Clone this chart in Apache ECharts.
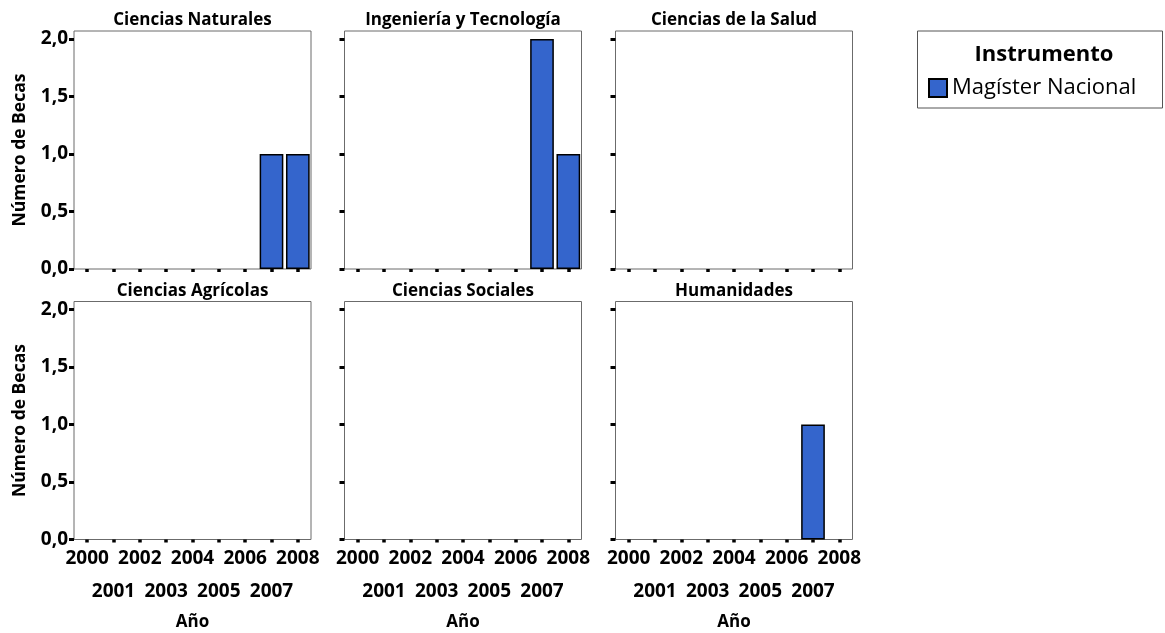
<!DOCTYPE html>
<html>
<head>
<meta charset="utf-8">
<script src="https://cdn.jsdelivr.net/npm/echarts@6/dist/echarts.min.js"></script>
<style>html,body{margin:0;padding:0;background:#fff}#c{width:1165px;height:633px}</style>
</head>
<body>
<div id="c"></div>
<script>
const years = ['2000','2001','2002','2003','2004','2005','2006','2007','2008'];
const panelTitles = ['Ciencias Naturales','Ingeniería y Tecnología','Ciencias de la Salud','Ciencias Agrícolas','Ciencias Sociales','Humanidades'];
const cienciasNaturales    = [0,0,0,0,0,0,0,1,1];
const ingenieriaTecnologia = [0,0,0,0,0,0,0,2,1];
const cienciasSalud        = [0,0,0,0,0,0,0,0,0];
const cienciasAgricolas    = [0,0,0,0,0,0,0,0,0];
const cienciasSociales     = [0,0,0,0,0,0,0,0,0];
const humanidades          = [0,0,0,0,0,0,0,1,0];
const yTickValues = [0, 0.5, 1, 1.5, 2];
const seriesName = 'Magíster Nacional';
const legendTitle = 'Instrumento';
const yName = 'Número de Becas';
const xName = 'Año';

const panelData = [cienciasNaturales, ingenieriaTecnologia, cienciasSalud, cienciasAgricolas, cienciasSociales, humanidades];
const FONT = 'Open Sans';
const colLeft = [74, 344.5, 615.5];
const rowTop = [31, 301.5];
const W = 237, H = 238;

const grids = [], xAxes = [], yAxes = [], series = [], titles = [];
for (let i = 0; i < 6; i++) {
  const r = Math.floor(i / 3), c = i % 3;
  grids.push({left: colLeft[c], top: rowTop[r], width: W, height: H, show: true,
    borderColor: '#6b6b6b', borderWidth: 1, backgroundColor: '#fff'});
  xAxes.push({
    type: 'category', gridIndex: i, data: years, boundaryGap: true,
    axisLine: {show: false},
    axisTick: {show: true, alignWithLabel: true, interval: 0, length: 3, lineStyle: {color: '#000', width: 3.5}},
    axisLabel: r === 1 ? {show: true, interval: 0, margin: 3, lineHeight: 33,
      fontFamily: FONT, fontWeight: 'bold', fontSize: 19, color: '#000',
      formatter: (v, idx) => idx % 2 === 0 ? v : '\n' + v} : {show: false},
    name: r === 1 ? xName : '', nameLocation: 'middle', nameGap: 74,
    nameTextStyle: {fontFamily: FONT, fontWeight: 'bold', fontSize: 17, color: '#000'}
  });
  yAxes.push({
    type: 'value', gridIndex: i, min: 0, max: 2.07,
    splitLine: {show: false}, axisLine: {show: false},
    axisTick: {show: true, length: 5, customValues: yTickValues, lineStyle: {color: '#000', width: 3}},
    axisLabel: c === 0 ? {show: true, customValues: yTickValues, margin: 6,
      fontFamily: FONT, fontWeight: 'bold', fontSize: 19, color: '#000',
      formatter: v => v.toFixed(1).replace('.', ',')} : {show: false},
    name: c === 0 ? yName : '', nameLocation: 'middle', nameGap: 45,
    nameTextStyle: {fontFamily: FONT, fontWeight: 'bold', fontSize: 17.5, color: '#000'}
  });
  series.push({
    type: 'bar', name: seriesName, xAxisIndex: i, yAxisIndex: i,
    data: panelData[i].map(v => v === 0 ? null : v),
    barWidth: '90%',
    itemStyle: {color: '#3465CC', borderColor: '#000', borderWidth: 1.5}
  });
  titles.push({text: panelTitles[i], left: colLeft[c] + W / 2, top: rowTop[r] - 19, textAlign: 'center', padding: 0,
    textStyle: {fontFamily: FONT, fontWeight: 'bold', fontSize: 17, color: '#000'}});
}
titles.push({text: legendTitle, left: 1044, top: 44, textAlign: 'center', padding: 0,
  textStyle: {fontFamily: FONT, fontWeight: 'bold', fontSize: 22, color: '#000'}});

const chart = echarts.init(document.getElementById('c'), null, {renderer: 'canvas'});
chart.setOption({
  animation: false,
  backgroundColor: '#fff',
  title: titles,
  grid: grids, xAxis: xAxes, yAxis: yAxes, series: series,
  legend: {data: [seriesName], left: 928, top: 77, padding: 0, itemWidth: 18, itemHeight: 18, itemGap: 5,
    icon: 'rect', textStyle: {fontFamily: FONT, fontSize: 22, color: '#000'}},
  graphic: [{type: 'rect', shape: {x: 917.5, y: 31, width: 245, height: 77}, style: {fill: 'none', stroke: '#555', lineWidth: 1}}]
});
</script>
</body>
</html>
